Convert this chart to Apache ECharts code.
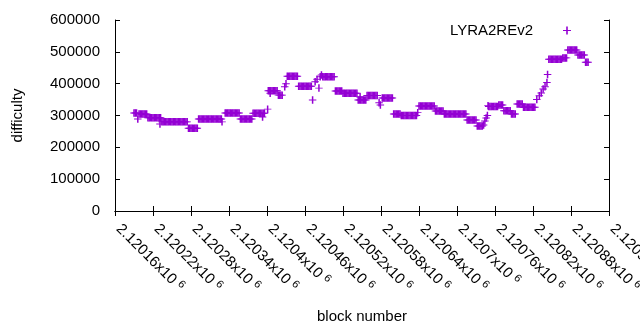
<!DOCTYPE html>
<html lang="en">
<head>
    <meta charset="UTF-8">
    <title>LYRA2REv2 difficulty</title>
    <script src="https://cdn.jsdelivr.net/npm/echarts@6/dist/echarts.min.js"></script>
    <style>
        html, body { margin: 0; padding: 0; background: #fff; }
        #chart { width: 640px; height: 330px; }
    </style>
</head>
<body>
<div id="chart"></div>
<script>
    // block numbers / difficulty
    let blocks = [
        2120190, 2120192, 2120194, 2120196,
        2120198, 2120200, 2120202, 2120204, 2120206, 2120208, 2120210,
        2120212, 2120214, 2120216, 2120218, 2120220, 2120222, 2120224, 2120226, 2120228, 2120230, 2120231, 2120232,
        2120234, 2120236, 2120238, 2120240, 2120242, 2120244, 2120246, 2120248, 2120250, 2120252, 2120254, 2120256, 2120258, 2120260, 2120262, 2120264, 2120266, 2120268, 2120270, 2120272, 2120274,
        2120276, 2120278, 2120280, 2120282, 2120284, 2120286, 2120288, 2120290,
        2120292, 2120294, 2120296, 2120298, 2120300, 2120302, 2120304, 2120306, 2120308, 2120310, 2120312, 2120314, 2120316, 2120318, 2120320, 2120322, 2120324, 2120326, 2120328, 2120329,
        2120334, 2120336, 2120338, 2120340, 2120342, 2120344, 2120346, 2120348, 2120350, 2120352, 2120354, 2120356,
        2120358, 2120360, 2120362, 2120364, 2120366, 2120368, 2120370, 2120372, 2120374, 2120376,
        2120378, 2120380, 2120382, 2120384, 2120386, 2120388, 2120390, 2120392, 2120393, 2120394, 2120396, 2120401,
        2120402, 2120404, 2120405, 2120406, 2120408, 2120410, 2120412, 2120414, 2120416,
        2120418, 2120420, 2120422, 2120424, 2120428, 2120430,
        2120432, 2120434, 2120436, 2120438, 2120440, 2120442, 2120444, 2120446, 2120448,
        2120450, 2120452, 2120454, 2120456, 2120458, 2120460, 2120462, 2120464, 2120466, 2120468, 2120470,
        2120472, 2120476, 2120479, 2120482,
        2120484, 2120486, 2120488, 2120490, 2120492, 2120494, 2120496, 2120498, 2120500, 2120502, 2120504, 2120506,
        2120508, 2120510, 2120512, 2120514, 2120516, 2120518,
        2120520, 2120522, 2120524, 2120526, 2120528, 2120530, 2120532, 2120534, 2120536, 2120538, 2120540, 2120542,
        2120544, 2120546, 2120547, 2120548, 2120550, 2120552, 2120554, 2120556,
        2120558, 2120560, 2120562, 2120564, 2120566, 2120568, 2120570, 2120572, 2120574, 2120577, 2120579,
        2120582, 2120584, 2120586, 2120588, 2120590, 2120592, 2120594, 2120596, 2120598,
        2120600, 2120602, 2120604, 2120606, 2120608, 2120610,
        2120612, 2120614, 2120616, 2120618, 2120620, 2120622, 2120624, 2120626, 2120628, 2120630, 2120632, 2120634, 2120636, 2120638,
        2120640, 2120642, 2120644, 2120646, 2120648, 2120650, 2120652, 2120654, 2120656, 2120658, 2120660, 2120662, 2120664,
        2120666, 2120668, 2120670, 2120672, 2120674, 2120676, 2120678,
        2120680, 2120682, 2120684, 2120686, 2120688, 2120690, 2120692, 2120694, 2120696, 2120698, 2120700, 2120702, 2120704, 2120706, 2120708, 2120710, 2120712, 2120714,
        2120716, 2120718, 2120720, 2120722, 2120724, 2120726, 2120728, 2120730,
        2120732, 2120734, 2120736, 2120738, 2120740, 2120742, 2120744, 2120746, 2120748, 2120749,
        2120750, 2120752, 2120754, 2120756, 2120758, 2120760, 2120762, 2120764, 2120766, 2120768, 2120770, 2120772,
        2120774, 2120776, 2120778, 2120780, 2120782, 2120784, 2120786, 2120788, 2120790, 2120792,
        2120795, 2120797, 2120799, 2120801, 2120803, 2120805, 2120807, 2120809, 2120811, 2120813, 2120815, 2120817, 2120819, 2120821, 2120823,
        2120826, 2120830, 2120833, 2120836, 2120839, 2120842, 2120843,
        2120845, 2120847, 2120849, 2120851, 2120853, 2120855, 2120857, 2120859, 2120861, 2120863, 2120865, 2120867, 2120869, 2120871, 2120873,
        2120875, 2120877, 2120879, 2120881, 2120883, 2120885, 2120887, 2120889,
        2120891, 2120893, 2120895, 2120897, 2120899, 2120901, 2120903, 2120905, 2120907
    ]
    let difficulty = [
        308000, 308000, 308000, 289000,
        305000, 305000, 305000, 305000, 305000, 305000, 305000,
        293000, 293000, 293000, 293000, 293000, 293000, 293000, 293000, 293000, 293000, 273000, 293000,
        280000, 280000, 280000, 280000, 280000, 280000, 280000, 280000, 280000, 280000, 280000, 280000, 280000, 280000, 280000, 280000, 280000, 280000, 280000, 280000, 280000,
        260000, 260000, 260000, 260000, 260000, 260000, 260000, 260000,
        289000, 289000, 289000, 289000, 289000, 289000, 289000, 289000, 289000, 289000, 289000, 289000, 289000, 289000, 289000, 289000, 289000, 289000, 289000, 280000,
        308000, 308000, 308000, 308000, 308000, 308000, 308000, 308000, 308000, 308000, 308000, 308000,
        289000, 289000, 289000, 289000, 289000, 289000, 289000, 289000, 289000, 289000,
        307000, 307000, 307000, 307000, 307000, 307000, 307000, 307000, 295000, 307000, 307000, 320000,
        378000, 378000, 370000, 378000, 378000, 378000, 378000, 378000, 378000,
        364000, 364000, 364000, 364000, 390000, 400000,
        423000, 423000, 423000, 423000, 423000, 423000, 423000, 423000, 423000,
        392000, 392000, 392000, 392000, 392000, 392000, 392000, 392000, 392000, 392000, 392000,
        349000, 406000, 414000, 386000,
        422000, 427000, 422000, 422000, 422000, 422000, 422000, 422000, 422000, 422000, 422000, 422000,
        377000, 377000, 377000, 377000, 377000, 377000,
        370000, 370000, 370000, 370000, 370000, 370000, 370000, 370000, 370000, 370000, 370000, 370000,
        349000, 349000, 358000, 349000, 349000, 349000, 349000, 349000,
        363000, 363000, 363000, 363000, 363000, 363000, 363000, 363000, 363000, 340000, 333000,
        355000, 355000, 355000, 355000, 355000, 355000, 355000, 355000, 355000,
        305000, 305000, 305000, 305000, 305000, 305000,
        300000, 300000, 300000, 300000, 300000, 300000, 300000, 300000, 300000, 300000, 300000, 300000, 300000, 309000,
        330000, 330000, 330000, 330000, 330000, 330000, 330000, 330000, 330000, 330000, 330000, 330000, 330000,
        314000, 314000, 314000, 314000, 314000, 314000, 314000,
        305000, 305000, 305000, 305000, 305000, 305000, 305000, 305000, 305000, 305000, 305000, 305000, 305000, 305000, 305000, 305000, 305000, 305000,
        286000, 286000, 286000, 286000, 286000, 286000, 286000, 286000,
        267000, 267000, 267000, 267000, 267000, 270000, 283000, 292000, 300000, 331000,
        328000, 328000, 328000, 328000, 328000, 328000, 328000, 328000, 333000, 333000, 333000, 333000,
        315000, 315000, 315000, 315000, 315000, 315000, 305000, 305000, 305000, 305000,
        336000, 336000, 336000, 336000, 336000, 326000, 326000, 326000, 326000, 326000, 326000, 326000, 326000, 326000, 326000,
        350000, 362000, 371000, 383000, 390000, 404000, 429000,
        477000, 477000, 477000, 477000, 477000, 477000, 477000, 477000, 477000, 477000, 477000, 481000, 481000, 481000, 481000,
        506000, 506000, 506000, 506000, 506000, 506000, 506000, 506000,
        490000, 490000, 490000, 490000, 490000, 490000, 467000, 467000, 467000
    ]
    let seriesName = 'LYRA2REv2'
    let xMin = 2120160, xMax = 2120940, xStep = 60
    let yMin = 0, yMax = 600000, yStep = 100000

    let font = "'Liberation Sans', Arial, sans-serif"
    // gnuplot style "+" point, vertical stroke a bit heavier so runs fill in
    let plus = 'path://M0,4.35H10V5.65H0Z M4,0H6V10H4Z'

    let chart = echarts.init(document.getElementById('chart'))

    let frameAxis = {
        axisLine: {show: true, lineStyle: {color: '#000', width: 1}},
        axisTick: {show: true, inside: true, length: 5, lineStyle: {color: '#000'}},
        splitLine: {show: false}
    }

    chart.setOption({
        animation: false,
        backgroundColor: '#fff',
        textStyle: {fontFamily: font},
        grid: {left: 115, right: 31, top: 20, bottom: 119, outerBoundsMode: 'none', containLabel: false},
        legend: {
            data: [{name: seriesName, icon: plus}],
            right: 69,
            top: 23,
            padding: 0,
            align: 'right',
            itemWidth: 58,
            itemHeight: 8,
            textStyle: {fontSize: 15, color: '#000', fontFamily: font}
        },
        xAxis: [
            Object.assign({
                type: 'value', min: xMin, max: xMax, interval: xStep,
                name: 'block number', nameLocation: 'middle', nameGap: 98,
                nameTextStyle: {fontSize: 15, color: '#000', fontFamily: font},
                axisLabel: {
                    rotate: -45, margin: 12, padding: [0, 0, 0, 5],
                    color: '#000', fontSize: 15, fontFamily: font,
                    showMinLabel: true, showMaxLabel: true,
                    formatter: function (v) {
                        return '{m|' + (+(v / 1e6).toFixed(5)) + 'x10}{s|6}'
                    },
                    rich: {
                        m: {fontSize: 15, lineHeight: 18, fontFamily: font, color: '#000'},
                        s: {fontSize: 11, verticalAlign: 'top', fontFamily: font, color: '#000', padding: [0, 0, 0, 4]}
                    }
                }
            }, frameAxis),
            Object.assign({
                type: 'value', position: 'top', min: xMin, max: xMax, interval: xStep,
                axisLabel: {show: false}
            }, frameAxis)
        ],
        yAxis: [
            Object.assign({
                type: 'value', min: yMin, max: yMax, interval: yStep,
                name: 'difficulty', nameLocation: 'middle', nameGap: 90,
                nameTextStyle: {fontSize: 15, color: '#000', fontFamily: font},
                axisLabel: {
                    margin: 15, color: '#000', fontSize: 15, fontFamily: font,
                    formatter: function (v) { return String(v) }
                }
            }, frameAxis),
            Object.assign({
                type: 'value', position: 'right', min: yMin, max: yMax, interval: yStep,
                axisLabel: {show: false}
            }, frameAxis)
        ],
        series: [{
            name: seriesName,
            type: 'scatter',
            symbol: plus,
            symbolSize: 7.5,
            symbolKeepAspect: true,
            itemStyle: {color: '#9400d3', opacity: 1},
            emphasis: {disabled: true},
            data: blocks.map(function (b, i) { return [b, difficulty[i]] })
        }]
    })
</script>
</body>
</html>
